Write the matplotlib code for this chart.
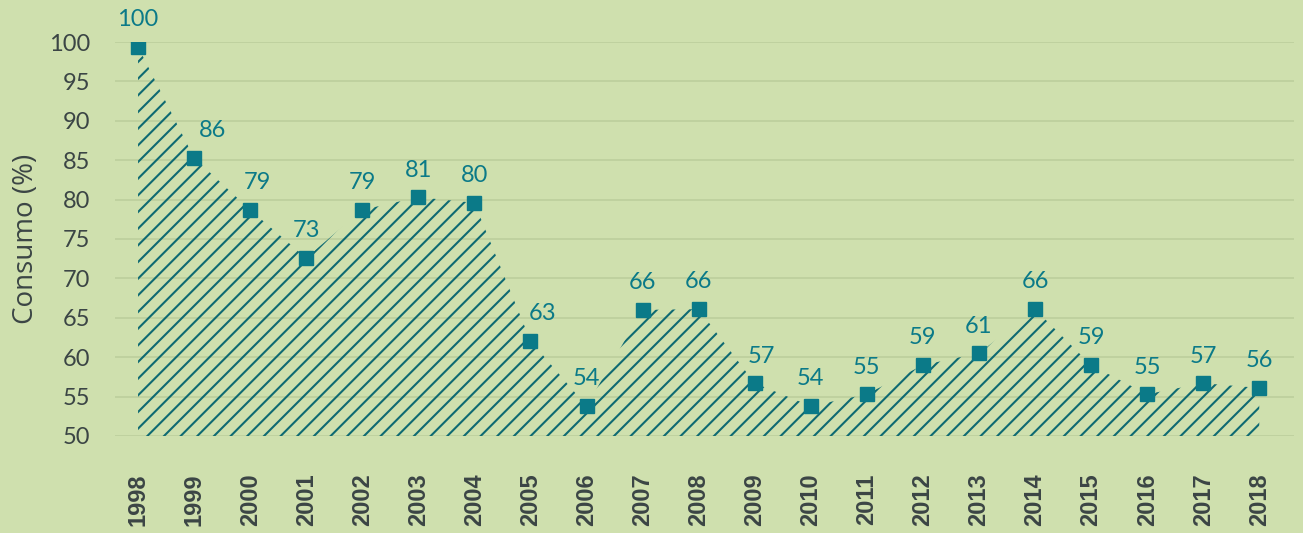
import matplotlib
matplotlib.use("Agg")
import matplotlib.pyplot as plt

years = list(range(1998, 2019))
consumo = [99.4, 85.3, 78.7, 72.6, 78.7, 80.3, 79.6, 62.1, 53.8, 66.0, 66.1,
           56.7, 53.8, 55.3, 59.0, 60.5, 66.1, 59.0, 55.3, 56.7, 56.1]
etiquetas = ['100', '86', '79', '73', '79', '81', '80', '63', '54', '66', '66',
             '57', '54', '55', '59', '61', '66', '59', '55', '57', '56']
y_ticks = list(range(50, 101, 5))

bg = '#cfe0ae'
teal = '#0b7a88'
hatch_col = '#0f6a72'
grey = '#3b4545'

plt.rcParams['hatch.linewidth'] = 1.5
plt.rcParams['hatch.color'] = hatch_col

fig = plt.figure(figsize=(13.03, 5.33), dpi=100, facecolor=bg)
ax = fig.add_axes([0.0883, 0.182, 0.9048, 0.7392], facecolor=bg)

# hatched area under the series
ax.fill_between(years, 50, consumo, facecolor='none', edgecolor=hatch_col,
                hatch='//', linewidth=0, zorder=2)
ax.plot(years, consumo, linestyle='none', marker='s', markersize=9.5,
        color=teal, zorder=4)

# labels on falling points sit a little to the right
nudge = {1999: 13, 2000: 5, 2005: 9, 2009: 5}
for x, y, t in zip(years, consumo, etiquetas):
    ax.annotate(t, (x, y), xytext=(nudge.get(x, 0), 12), textcoords='offset points',
                ha='center', va='bottom', fontsize=17, color=teal,
                family='Lato', clip_on=False, zorder=5)

ax.set_xlim(1998 - 0.41, 2018 + 0.62)
ax.set_ylim(50, 100)
ax.set_yticks(y_ticks)
ax.set_xticks(years)
ax.set_xticklabels([str(y) for y in years], rotation=90, fontsize=17,
                   fontweight='bold', color=grey, family='Liberation Sans')
for lab in ax.get_yticklabels():
    lab.set_fontsize(17)
    lab.set_color(grey)
    lab.set_family('Lato')
ax.tick_params(axis='both', length=0)
ax.tick_params(axis='y', pad=18)
ax.tick_params(axis='x', pad=27)
ax.grid(axis='y', color='#bccf9c', linewidth=1.2, zorder=1)
ax.set_axisbelow(True)
for s in ax.spines.values():
    s.set_visible(False)
ax.set_ylabel('Consumo (%)', fontsize=20, color=grey, family='Open Sans', labelpad=6)

fig.savefig('out.png', dpi=100, facecolor=bg)
